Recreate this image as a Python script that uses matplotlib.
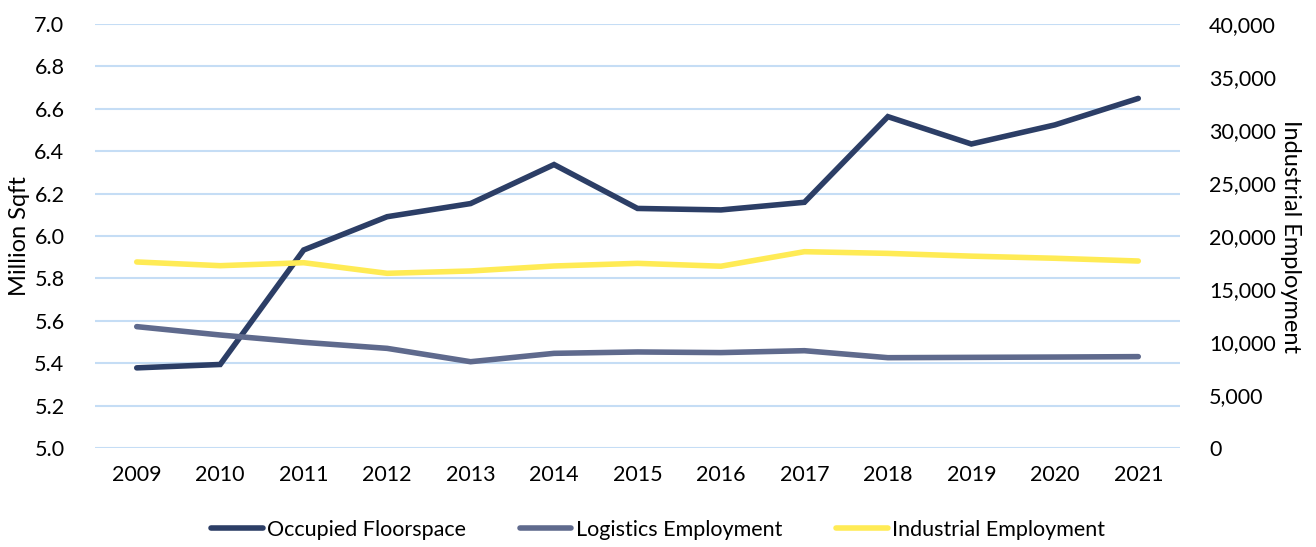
import matplotlib
matplotlib.use("Agg")
import matplotlib.pyplot as plt
from matplotlib.ticker import FuncFormatter, MultipleLocator

years = ["2009", "2010", "2011", "2012", "2013", "2014", "2015",
         "2016", "2017", "2018", "2019", "2020", "2021"]
occupied_floorspace = [5.378, 5.394, 5.934, 6.091, 6.153, 6.337, 6.130,
                       6.123, 6.159, 6.563, 6.434, 6.524, 6.649]
logistics_employment = [11450, 10660, 9970, 9400, 8140, 8930, 9060,
                        9000, 9180, 8520, 8550, 8580, 8620]
industrial_employment = [17550, 17200, 17480, 16480, 16700, 17170, 17420,
                         17150, 18520, 18360, 18100, 17900, 17640]

plt.rcParams['font.family'] = ['Lato', 'DejaVu Sans']

c_occ = "#2C3E66"
c_log = "#5F6A8D"
c_ind = "#FFEB55"
c_grid = "#C5DDF5"

fig = plt.figure(figsize=(13.16, 5.47), dpi=100)
ax = fig.add_axes([95/1316, 1-448/547, (1180-95)/1316, (448-24)/547])
ax2 = ax.twinx()

x = list(range(len(years)))
lw = 4.0
l1, = ax.plot(x, occupied_floorspace, color=c_occ, lw=lw, solid_capstyle='round',
              solid_joinstyle='miter', label="Occupied Floorspace")
l2, = ax2.plot(x, logistics_employment, color=c_log, lw=lw, solid_capstyle='round',
               solid_joinstyle='miter', label="Logistics Employment")
l3, = ax2.plot(x, industrial_employment, color=c_ind, lw=lw, solid_capstyle='round',
               solid_joinstyle='miter', label="Industrial Employment")

ax.set_xlim(-0.5, len(years) - 0.5)
ax.set_ylim(5.0, 7.0)
ax.yaxis.set_major_locator(MultipleLocator(0.2))
ax.yaxis.set_major_formatter(FuncFormatter(lambda v, p: f"{v:.1f}"))
ax2.set_ylim(0, 40000)
ax2.yaxis.set_major_locator(MultipleLocator(5000))
ax2.yaxis.set_major_formatter(FuncFormatter(lambda v, p: f"{int(round(v)):,}"))

ax.set_xticks(x)
ax.set_xticklabels(years)

ax.grid(axis='y', color=c_grid, lw=1.5)
ax.set_axisbelow(True)
for a in (ax, ax2):
    for s in a.spines.values():
        s.set_visible(False)
    a.tick_params(length=0, labelsize=15.5, colors="#000000")
ax.tick_params(axis='y', pad=22)
ax.tick_params(axis='x', pad=12)
ax2.tick_params(axis='y', pad=21)

ax.set_ylabel("Million Sqft", fontsize=17)
ax.yaxis.set_label_coords((30 - 95) / 1085, 0.5)
ax2.set_ylabel("Industrial Employment", fontsize=17, rotation=-90, va='center')
ax2.yaxis.set_label_coords((1290 - 95) / 1085, 0.5)

fig.legend(handles=[l1, l2, l3], loc='center', bbox_to_anchor=(658/1316, 1-530/547),
           ncol=3, frameon=False, fontsize=15.5, handlelength=2.4, handletextpad=0.2,
           columnspacing=2.5)

fig.savefig("out.png", dpi=100)
